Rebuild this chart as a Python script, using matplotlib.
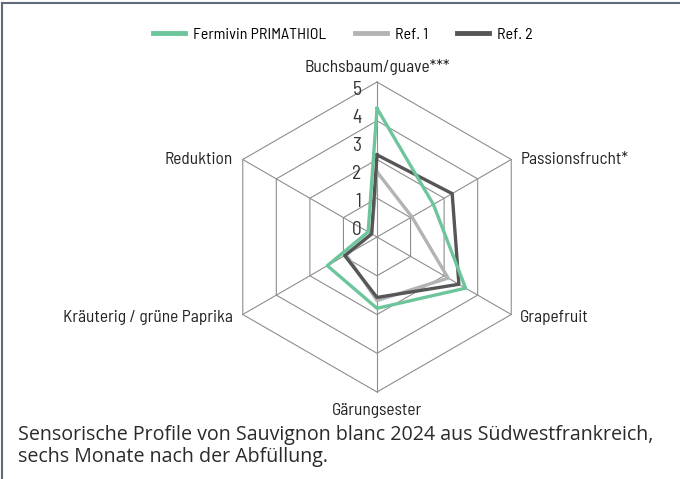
import matplotlib.pyplot as plt
import numpy as np
from matplotlib.lines import Line2D
from matplotlib import font_manager as fm

# axis categories, clockwise from the top
categories = ['Buchsbaum/guave***', 'Passionsfrucht*', 'Grapefruit',
              'Gärungsester', 'Kräuterig / grüne Paprika', 'Reduktion']

primathiol = [4.15, 2.1, 3.3, 2.3, 1.85, 0.33]
ref1 = [2.1, 1.3, 2.65, 2.05, 1.15, 0.2]
ref2 = [2.65, 2.8, 3.05, 1.95, 1.2, 0.2]

tick_vals = [0, 1, 2, 3, 4, 5]
grid_levels = [1.25, 2.5, 3.75, 5]

label_font = ['Barlow Semi Condensed', 'DejaVu Sans']
caption_prop = fm.FontProperties(family=['Open Sans', 'DejaVu Sans'], size=14.1)

GREEN = '#6dc59b'
LIGHT = '#b3b3b5'
DARK = '#565656'
GRID = '#8e8e8e'

W, H = 680, 479
cx, cy = 377, 237   # chart centre in pixels
unit = 31.0         # pixels per value unit

angles = np.pi / 2 - np.arange(len(categories)) * 2 * np.pi / len(categories)


def to_xy(vals):
    v = np.asarray(vals, dtype=float)
    v = np.append(v, v[0])
    a = np.append(angles, angles[0])
    return v * np.cos(a), v * np.sin(a)


fig = plt.figure(figsize=(W / 100, H / 100), dpi=100)
ax = fig.add_axes([0, 0, 1, 1])
ax.set_xlim(-cx / unit, (W - cx) / unit)
ax.set_ylim(-(H - cy) / unit, cy / unit)
ax.axis('off')

# hexagonal grid + spokes
for lev in grid_levels:
    gx, gy = to_xy([lev] * len(categories))
    ax.plot(gx, gy, color=GRID, lw=0.8, zorder=1)
for a in angles:
    ax.plot([0, 5 * np.cos(a)], [0, 5 * np.sin(a)], color=GRID, lw=0.8, zorder=1)

# series
x, y = to_xy(ref1)
l1, = ax.plot(x, y, color=LIGHT, lw=2.4, zorder=3, label='Ref. 1')
x, y = to_xy(ref2)
l2, = ax.plot(x, y, color=DARK, lw=2.4, zorder=4, label='Ref. 2')
x, y = to_xy(primathiol)
l0, = ax.plot(x, y, color=GREEN, lw=2.4, zorder=5, label='Fermivin PRIMATHIOL')

# radial tick labels (as placed in the original, not on the rings)
for t in tick_vals:
    ax.text(-0.5, 0.23 + 0.9 * t, str(t), ha='right', va='center',
            fontsize=14, color='#333333', family=label_font, zorder=6)

# category labels
lab = dict(fontsize=12.5, family=label_font, color='#222222', va='center')
ax.text(0, 5.5, categories[0], ha='center', **lab)
ax.text(4.62, 2.5, categories[1], ha='left', **lab)
ax.text(4.62, -2.6, categories[2], ha='left', **lab)
ax.text(0, -5.6, categories[3], ha='center', **lab)
ax.text(-4.65, -2.6, categories[4], ha='right', **lab)
ax.text(-4.65, 2.5, categories[5], ha='right', **lab)

leg = fig.legend(handles=[l0, l1, l2], loc='center', ncol=3, frameon=False,
                 bbox_to_anchor=(343 / W, 1 - 35 / H), handlelength=2.0,
                 handletextpad=0.5, columnspacing=1.8,
                 prop={'family': label_font, 'size': 11.5})
for h in leg.get_lines():
    h.set_linewidth(3.5)

fig.text(18 / W, 1 - 435 / H, 'Sensorische Profile von Sauvignon blanc 2024 aus Südwestfrankreich,',
         ha='left', va='center', fontproperties=caption_prop, color='#2a2a2a')
fig.text(18 / W, 1 - 457 / H, 'sechs Monate nach der Abfüllung.',
         ha='left', va='center', fontproperties=caption_prop, color='#2a2a2a')

# frame lines on top and left
fig.add_artist(Line2D([2 / W, 1], [1 - 3 / H, 1 - 3 / H], transform=fig.transFigure, color='#5f6b78', lw=1.5))
fig.add_artist(Line2D([2 / W, 2 / W], [0, 1 - 3 / H], transform=fig.transFigure, color='#5f6b78', lw=1.5))

fig.savefig('out.png', dpi=100)
